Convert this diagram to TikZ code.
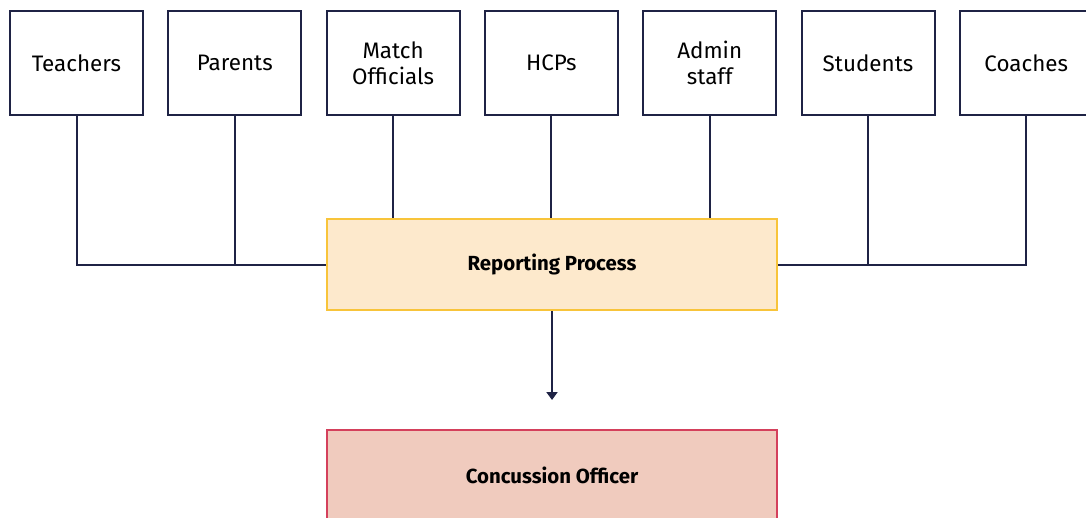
\documentclass[tikz,border=0pt]{standalone}
\usepackage{fontspec}
\setmainfont{Fira Sans}
\usetikzlibrary{positioning,arrows.meta}
\definecolor{navy}{HTML}{1F2345}
\definecolor{repline}{HTML}{F8C43A}
\definecolor{repfill}{HTML}{FDE9CC}
\definecolor{offline}{HTML}{D4405C}
\definecolor{offfill}{HTML}{F0CBBE}
\tikzset{
    stake/.style={rectangle,draw=navy,line width=1pt, minimum width=66.5pt, minimum height=52pt, inner sep=0, align=center, font=\fontsize{11.2}{13}\selectfont},
    report/.style={rectangle,draw=repline,line width=1pt, fill=repfill, minimum width=225pt, minimum height=45.5pt, inner sep=0, font=\fontsize{10.2}{12}\selectfont\bfseries},
    officer/.style={rectangle,draw=offline,line width=1pt, fill=offfill, minimum width=225pt, minimum height=45.5pt, inner sep=0, font=\fontsize{10.2}{12}\selectfont\bfseries},
    link/.style={draw=navy,line width=1pt},
    flow/.style={draw=navy,line width=1pt,-{Triangle[width=5.5pt,length=4pt]}}
}

\begin{document}
\begin{tikzpicture}[x=0.5pt,y=-0.5pt]
    \useasboundingbox (0,0) rectangle (1086,518);
    \clip (0,0) rectangle (1086,518);
    % who reports
    \node[stake] (tea) at (76.5,63) {Teachers};
    \node[stake, right=11.65pt of tea] (par) {Parents};
    \node[stake, right=11.65pt of par] (mo) {Match\\Officials};
    \node[stake, right=11.65pt of mo] (hcp) {HCPs};
    \node[stake, right=11.65pt of hcp] (adm) {Admin\\staff};
    \node[stake, right=11.65pt of adm] (stu) {Students};
    \node[stake, right=11.65pt of stu] (coa) {Coaches};
    % process and officer
    \node[report] (rep) at (552,264.5) {Reporting Process};
    \node[officer] (off) at (552,475.5) {Concussion Officer};
    \coordinate (tip) at (552,400);
    % connectors
    \draw[link] (tea.south) |- (rep.west);
    \draw[link] (par.south) -- (par.south |- rep.west);
    \draw[link] (mo.south) -- (mo.south |- rep.north);
    \draw[link] (hcp.south) -- (hcp.south |- rep.north);
    \draw[link] (adm.south) -- (adm.south |- rep.north);
    \draw[link] (coa.south) |- (rep.east);
    \draw[link] (stu.south) -- (stu.south |- rep.east);
    \draw[flow] (rep.south) -- (tip);
\end{tikzpicture}
\end{document}
